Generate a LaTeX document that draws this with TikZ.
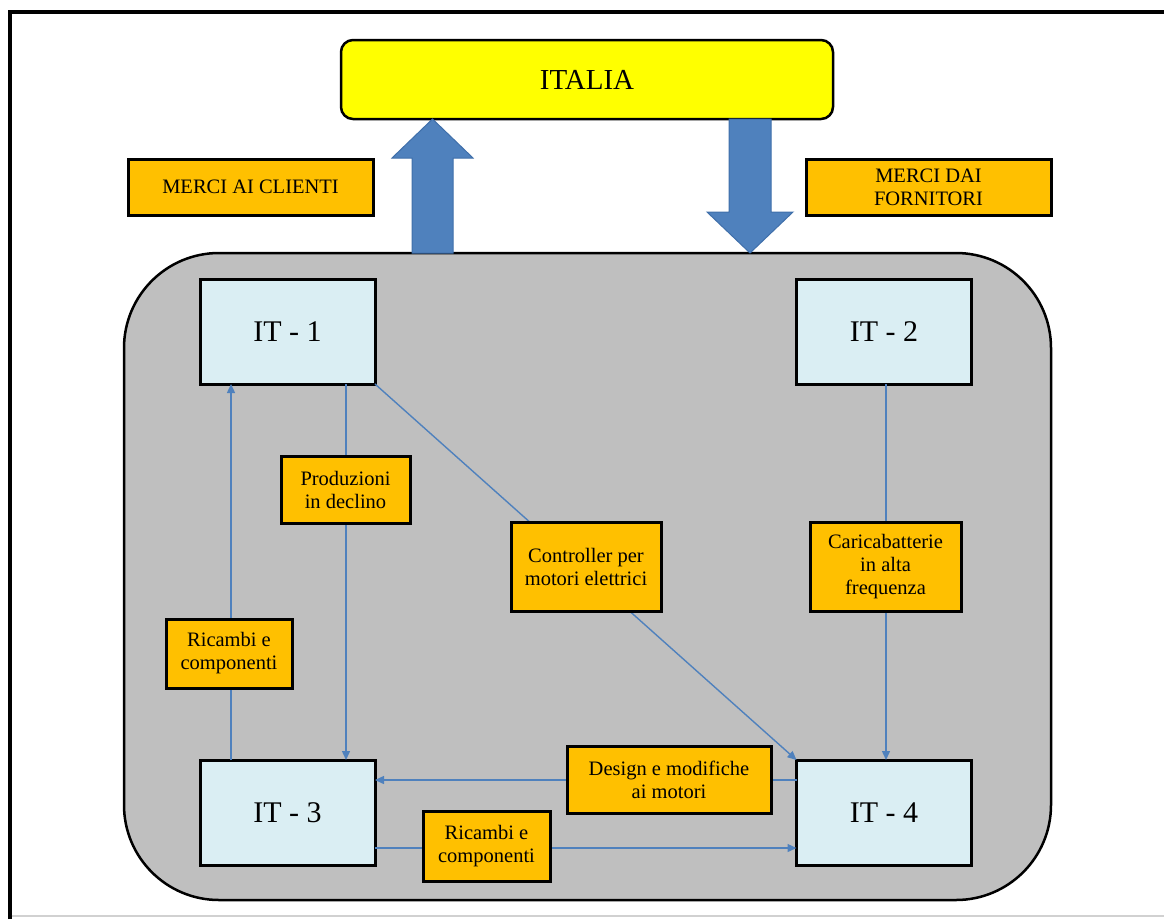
\documentclass[tikz,border=0pt]{standalone}
\usepackage{fontspec}
\setmainfont{Liberation Serif}
\usetikzlibrary{arrows.meta,calc}
\definecolor{boxorange}{HTML}{FFC000}
\definecolor{itblue}{HTML}{DAEEF3}
\definecolor{linkblue}{HTML}{4F81BD}
\definecolor{arrowedge}{HTML}{3F6FAA}
\definecolor{regiongray}{HTML}{BFBFBF}
\definecolor{italiayellow}{HTML}{FFFF00}
\begin{document}
\begin{tikzpicture}[x=1pt,y=-1pt,
  site/.style={draw=black, line width=3pt, fill=itblue, minimum width=175pt,
    minimum height=105pt, inner sep=0pt, outer sep=0pt,
    font=\fontsize{30}{34}\selectfont},
  tag/.style={draw=black, line width=3pt, fill=boxorange, inner sep=0pt,
    outer sep=0pt, align=center, font=\fontsize{20.5}{23}\selectfont},
  link/.style={draw=linkblue, line width=1.4pt, -{Triangle[length=9pt,width=8pt]}},
  bigarrow/.style={fill=linkblue, draw=arrowedge, line width=1pt, line join=miter},
]
\useasboundingbox (0,0) rectangle (1164,919);
\fill[white] (0,0) rectangle (1164,919);

% page frame
\draw[line width=4pt] (9.5,919) -- (9.5,12) -- (1164,12);
\draw[black!18, line width=2pt] (11.5,916) -- (1164,916);

% grey region holding the four sites
\node[draw=black, line width=2.5pt, fill=regiongray, rounded corners=95pt,
  minimum width=927pt, minimum height=647pt, inner sep=0pt, outer sep=0pt]
  (region) at (587.5,576.5) {};

% ITALIA box
\node[draw=black, line width=2.5pt, fill=italiayellow, rounded corners=12pt,
  minimum width=492pt, minimum height=79pt, inner sep=0pt, outer sep=0pt,
  font=\fontsize{29}{33}\selectfont] (italia) at (587,79.5) {ITALIA};

% block arrows between the region and ITALIA
\coordinate (ua) at (432.5,0);
\coordinate (da) at (750,0);
\path (region.north -| ua) coordinate (ua0) (italia.south -| ua) coordinate (ua1);
\path (italia.south -| da) coordinate (da0) (region.north -| da) coordinate (da1);
\draw[bigarrow] ($(ua0)+(-20.5,0)$) -- ($(ua1)+(-20.5,39)$) -- ($(ua1)+(-40.5,39)$)
  -- (ua1) -- ($(ua1)+(40.5,39)$) -- ($(ua1)+(20.5,39)$) -- ($(ua0)+(20.5,0)$) -- cycle;
\draw[bigarrow] ($(da0)+(-21,0)$) -- ($(da1)+(-21,-41)$) -- ($(da1)+(-43,-41)$)
  -- (da1) -- ($(da1)+(43,-41)$) -- ($(da1)+(21,-41)$) -- ($(da0)+(21,0)$) -- cycle;

\node[tag, minimum width=245pt, minimum height=56pt] (clienti) at (250.5,187) {MERCI AI CLIENTI};
\node[tag, minimum width=245pt, minimum height=56pt] (fornitori) at (928.5,187) {MERCI DAI\\FORNITORI};

% sites
\node[site] (it1) at (287.5,331.5) {IT - 1};
\node[site] (it2) at (884,331.5) {IT - 2};
\node[site] (it3) at (287.5,812.5) {IT - 3};
\node[site] (it4) at (884,812.5) {IT - 4};

% flows between the sites
\coordinate (xa) at (231,0);
\coordinate (xb) at (346,0);
\coordinate (xc) at (886,0);
\coordinate (ya) at (0,780);
\coordinate (yb) at (0,848);
\draw[link] (it3.north -| xa) -- (it1.south -| xa);
\draw[link] (it1.south -| xb) -- (it3.north -| xb);
\draw[link] (it1.south east) -- (it4.north west);
\draw[link] (it2.south -| xc) -- (it4.north -| xc);
\draw[link] (it4.west |- ya) -- (it3.east |- ya);
\draw[link] (it3.east |- yb) -- (it4.west |- yb);

% flow labels
\node[tag, minimum width=126pt, minimum height=69pt] (ricambi1) at (229,653.5) {Ricambi e\\componenti};
\node[tag, minimum width=129pt, minimum height=67pt] (produzioni) at (345.5,489.5) {Produzioni\\in declino};
\node[tag, minimum width=150pt, minimum height=89pt] (controller) at (586,566.5) {Controller per\\motori elettrici};
\node[tag, minimum width=151pt, minimum height=89pt] (carica) at (885.5,566.5) {Caricabatterie\\in alta\\frequenza};
\node[tag, minimum width=204pt, minimum height=67pt] (design) at (669,779.5) {Design e modifiche\\ai motori};
\node[tag, minimum width=127pt, minimum height=70pt] (ricambi2) at (486.5,846) {Ricambi e\\componenti};
\end{tikzpicture}
\end{document}
